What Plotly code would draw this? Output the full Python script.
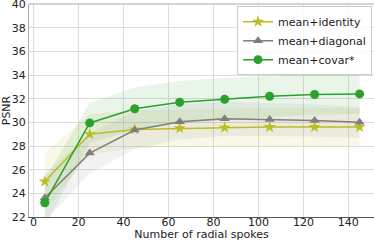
import plotly.graph_objects as go

spokes = [5, 25, 45, 65, 85, 105, 125, 145]

identity_mean = [25.0, 29.0, 29.4, 29.5, 29.55, 29.6, 29.6, 29.6]
identity_std = [2.4, 1.7, 1.6, 1.6, 1.6, 1.6, 1.6, 1.6]

diagonal_mean = [23.6, 27.4, 29.35, 30.05, 30.3, 30.25, 30.15, 30.0]
diagonal_std = [2.0, 1.7, 1.6, 1.5, 1.45, 1.4, 1.35, 1.3]

covar_mean = [23.2, 29.95, 31.15, 31.7, 31.95, 32.2, 32.35, 32.4]
covar_std = [2.0, 1.7, 1.8, 1.8, 1.8, 1.75, 1.7, 1.7]

names = ["mean+identity", "mean+diagonal", "mean+covar*"]
colors = ["#bcbd22", "#7f7f7f", "#2ca02c"]
fills = ["rgba(188,189,34,0.10)", "rgba(127,127,127,0.10)", "rgba(44,160,44,0.10)"]
symbols = ["star", "triangle-up", "circle"]
msizes = [9, 9, 9]
means = [identity_mean, diagonal_mean, covar_mean]
stds = [identity_std, diagonal_std, covar_std]

fig = go.Figure()

for m, s, fc in zip(means, stds, fills):
    upper = [a + b for a, b in zip(m, s)]
    lower = [a - b for a, b in zip(m, s)]
    fig.add_trace(go.Scatter(x=spokes, y=upper, mode="lines", line=dict(width=0),
                             showlegend=False, hoverinfo="skip"))
    fig.add_trace(go.Scatter(x=spokes, y=lower, mode="lines", line=dict(width=0),
                             fill="tonexty", fillcolor=fc, showlegend=False, hoverinfo="skip"))

for m, n, c, sym, ms in zip(means, names, colors, symbols, msizes):
    fig.add_trace(go.Scatter(x=spokes, y=m, name=n, mode="lines+markers",
                             line=dict(color=c, width=1.5),
                             marker=dict(symbol=sym, size=ms, color=c, line=dict(width=0))))

font = dict(family="DejaVu Sans", size=11, color="#222222")

fig.update_layout(
    width=374, height=241,
    margin=dict(l=29, r=0, t=4, b=24),
    paper_bgcolor="white", plot_bgcolor="white",
    font=font,
    showlegend=True,
    legend=dict(x=0.603, y=0.99, xanchor="left", yanchor="top", traceorder="normal",
                bgcolor="rgba(255,255,255,0.85)", bordercolor="#cccccc", borderwidth=1,
                font=font, itemwidth=30, tracegroupgap=0),
    xaxis=dict(range=[-2, 151.4], tickmode="array", tickvals=[0, 20, 40, 60, 80, 100, 120, 140],
               showgrid=True, gridcolor="#dddddd", gridwidth=1, zeroline=False,
               showline=True, linecolor="#555555", linewidth=1, mirror=False,
               ticks="", automargin=False, ticklabelstandoff=-5,
               title=dict(text="Number of radial spokes", font=font, standoff=9)),
    yaxis=dict(range=[22, 40], tickmode="array", tickvals=list(range(22, 41, 2)),
               showgrid=True, gridcolor="#dddddd", gridwidth=1, zeroline=False,
               showline=True, linecolor="#aaaaaa", linewidth=1, mirror=False,
               ticks="", automargin=False, ticklabeloverflow="allow",
               title=dict(text="PSNR", font=font, standoff=2)),
    shapes=[dict(type="line", xref="paper", yref="paper", x0=0, x1=1, y0=1, y1=1,
                 line=dict(color="#aaaaaa", width=1), layer="above")],
)

fig.write_html("out.html", config={"displayModeBar": False},
               post_script="document.body.style.margin='0';document.body.style.padding='0';")
